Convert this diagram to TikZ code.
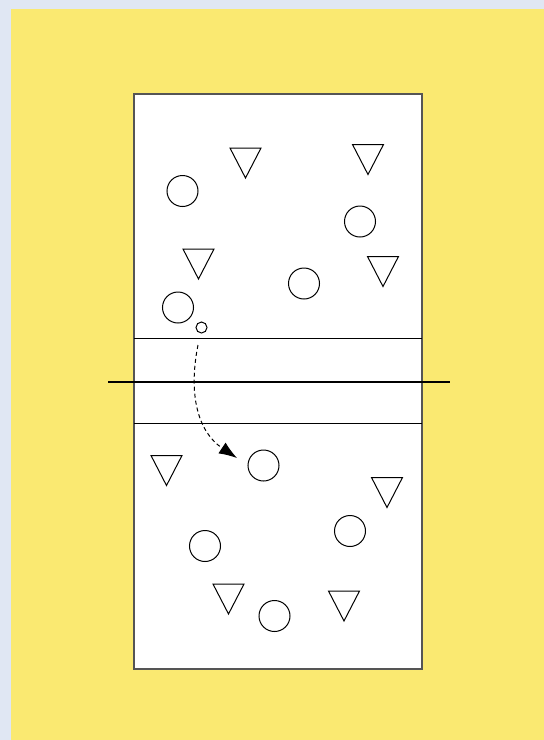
\documentclass[tikz,border=0pt]{standalone}
\usetikzlibrary{arrows.meta}
\definecolor{bgblue}{HTML}{E0E7F3}
\definecolor{bgyellow}{HTML}{FAE971}
\definecolor{courtline}{HTML}{555555}
\tikzset{
  player/.style={circle,draw=black,line width=1pt,minimum size=31pt,inner sep=0pt,fill=white},
  ballnode/.style={circle,draw=black,line width=1pt,minimum size=11pt,inner sep=0pt},
  defender/.pic={\draw[line width=1pt,fill=white] (-15.5,-15) -- (15.5,-15) -- (0,15) -- cycle;},
  thinline/.style={line width=1pt,black},
  passline/.style={line width=1pt,dash pattern=on 4pt off 3pt,-{Latex[length=18pt,width=13pt]}}
}
\begin{document}
\begin{tikzpicture}[x=1pt,y=-1pt]
\useasboundingbox (0,0) rectangle (544,740);
\fill[bgblue] (0,0) rectangle (544,740);
\fill[bgyellow] (11,9) rectangle (544,740);
% court
\draw[fill=white,draw=courtline,line width=1.4pt] (134,94) rectangle (422,669);
\draw[thinline] (134,338) -- (422,338);
\draw[thinline] (134,423) -- (422,423);
\coordinate (netL) at (108,382);
\coordinate (netR) at (450,382);
\draw[line width=2.6pt,black] (netL) -- (netR);
% defenders (triangles)
\pic at (245.5,163) {defender};
\pic at (368,159.5) {defender};
\pic at (198.5,264) {defender};
\pic at (383,271.5) {defender};
\pic at (166.5,470.5) {defender};
\pic at (387,492.5) {defender};
\pic at (228.5,599) {defender};
\pic at (344,606) {defender};
% players (circles)
\node[player] (c1) at (182.5,191) {};
\node[player] (c2) at (360,221.5) {};
\node[player] (c3) at (304,283.5) {};
\node[player] (c4) at (178,307.5) {};
\node[player] (c5) at (263.5,465.5) {};
\node[player] (c6) at (350,531) {};
\node[player] (c7) at (205,546) {};
\node[player] (c8) at (274.5,616) {};
\node[ballnode] (ball) at (201.5,327.5) {};
% pass
\coordinate (passStart) at (198,345);
\coordinate (passEnd) at (237,458);
\draw[passline] (passStart) .. controls (188,395) and (198,432) .. (passEnd);
\end{tikzpicture}
\end{document}
